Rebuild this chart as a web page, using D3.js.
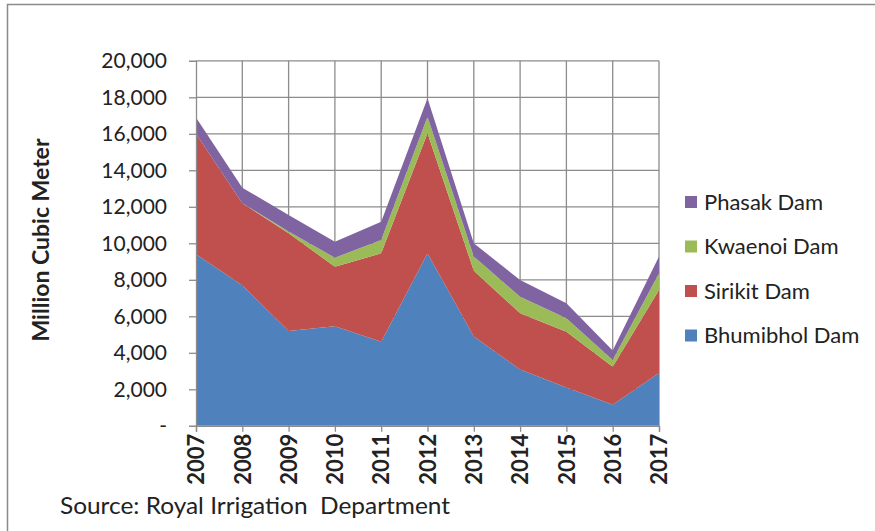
<!DOCTYPE html>
<html>
<head>
<meta charset="utf-8">
<script src="https://cdn.jsdelivr.net/npm/d3@7"></script>
<style>
  html, body { margin: 0; padding: 0; background: #fff; }
  svg { display: block; }
  text { font-family: Lato, "Open Sans", sans-serif; fill: #222; }
</style>
</head>
<body>
<svg id="chart" width="875" height="531"></svg>
<script>
// Reservoir storage by dam, million cubic metres
const years     = [2007, 2008, 2009, 2010, 2011, 2012, 2013, 2014, 2015, 2016, 2017];
const bhumibhol = [9400, 7700, 5200, 5450, 4600, 9450, 4900, 3080, 2100, 1150, 2900];
const sirikit   = [6600, 4500, 5350, 3270, 4850, 6580, 3600, 3090, 3060, 2090, 4540];
const kwaenoi   = [0,    0,    100,  490,  730,  910,  770,  900,  730,  360,  920];
const phasak    = [900,  850,  900,  880,  1000, 1010, 730,  920,  820,  520,  910];

const seriesNames = ["Bhumibhol Dam", "Sirikit Dam", "Kwaenoi Dam", "Phasak Dam"];
const seriesValues = [bhumibhol, sirikit, kwaenoi, phasak];
const seriesColors = ["#4F81BD", "#C0504D", "#9BBB59", "#8064A2"];
const yTicks = [0, 2000, 4000, 6000, 8000, 10000, 12000, 14000, 16000, 18000, 20000];

const svg = d3.select("#chart");

// outer frame
svg.append("rect")
  .attr("x", 7.5).attr("y", 4.5)
  .attr("width", 900).attr("height", 600)
  .attr("fill", "none").attr("stroke", "#8a8a8a").attr("stroke-width", 1.5);

const x = d3.scaleLinear().domain([years[0], years[years.length - 1]]).range([196, 659]);
const y = d3.scaleLinear().domain([0, 20000]).range([425.8, 60.8]);

// rows for the stack
const rows = years.map((yr, i) => {
  const r = { year: yr };
  seriesNames.forEach((n, k) => { r[n] = seriesValues[k][i]; });
  return r;
});
const stacked = d3.stack().keys(seriesNames)(rows);

// gridlines
const grid = svg.append("g").attr("stroke", "#8c8c8c").attr("stroke-width", 1.3);
grid.selectAll("line.h").data(yTicks.slice(1)).join("line")
  .attr("x1", x.range()[0]).attr("x2", x.range()[1])
  .attr("y1", d => y(d)).attr("y2", d => y(d));
grid.selectAll("line.v").data(years.slice(1)).join("line")
  .attr("x1", d => x(d)).attr("x2", d => x(d))
  .attr("y1", y(0)).attr("y2", y(20000));

// stacked areas
const area = d3.area()
  .x(d => x(d.data.year))
  .y0(d => y(d[0]))
  .y1(d => y(d[1]));
svg.append("g").selectAll("path").data(stacked).join("path")
  .attr("d", area)
  .attr("fill", (d, i) => seriesColors[i]);

// y axis
const yAxis = d3.axisLeft(y)
  .tickValues(yTicks)
  .tickSize(7)
  .tickPadding(22)
  .tickFormat(d => d === 0 ? "-" : d3.format(",")(d));
const gy = svg.append("g").attr("transform", `translate(${x.range()[0]},0)`).call(yAxis);
gy.select(".domain").attr("stroke", "#8c8c8c").attr("stroke-width", 1.3);
gy.selectAll(".tick line").attr("stroke", "#8c8c8c").attr("stroke-width", 1.3);
gy.selectAll(".tick text")
  .attr("font-family", "Lato, sans-serif")
  .attr("font-size", 21)
  .attr("fill", "#222");

// x axis
const xAxis = d3.axisBottom(x)
  .tickValues(years)
  .tickSize(6)
  .tickFormat(d3.format("d"));
const gx = svg.append("g").attr("transform", `translate(0,${y(0)})`).call(xAxis);
gx.select(".domain").attr("stroke", "#8c8c8c").attr("stroke-width", 1.3);
gx.selectAll(".tick line").attr("stroke", "#8c8c8c").attr("stroke-width", 1.3);
gx.selectAll(".tick text")
  .attr("font-family", "Lato, sans-serif")
  .attr("font-size", 22)
  .attr("font-weight", "bold")
  .attr("fill", "#222")
  .attr("text-anchor", "end")
  .attr("dy", "0.35em")
  .attr("transform", "translate(0,8) rotate(-90)")
  .attr("x", 0).attr("y", 0);

// y axis title
svg.append("text")
  .attr("transform", "translate(49,240) rotate(-90)")
  .attr("text-anchor", "middle")
  .attr("font-size", 23)
  .attr("font-weight", "bold")
  .text("Million Cubic Meter");

// legend (top series first)
const legendItems = seriesNames.map((n, i) => ({ name: n, color: seriesColors[i] })).reverse();
const lg = svg.append("g").selectAll("g").data(legendItems).join("g")
  .attr("transform", (d, i) => `translate(685,${202 + i * 44.5})`);
lg.append("rect").attr("x", 0).attr("y", -6).attr("width", 12).attr("height", 12)
  .attr("fill", d => d.color);
lg.append("text").attr("x", 19).attr("dy", "0.36em")
  .attr("font-size", 22)
  .text(d => d.name);

// source note
svg.append("text")
  .attr("x", 60).attr("y", 514)
  .attr("font-size", 23)
  .attr("xml:space", "preserve")
  .attr("textLength", 390)
  .attr("lengthAdjust", "spacingAndGlyphs")
  .text("Source: Royal Irrigation  Department");
</script>
</body>
</html>
